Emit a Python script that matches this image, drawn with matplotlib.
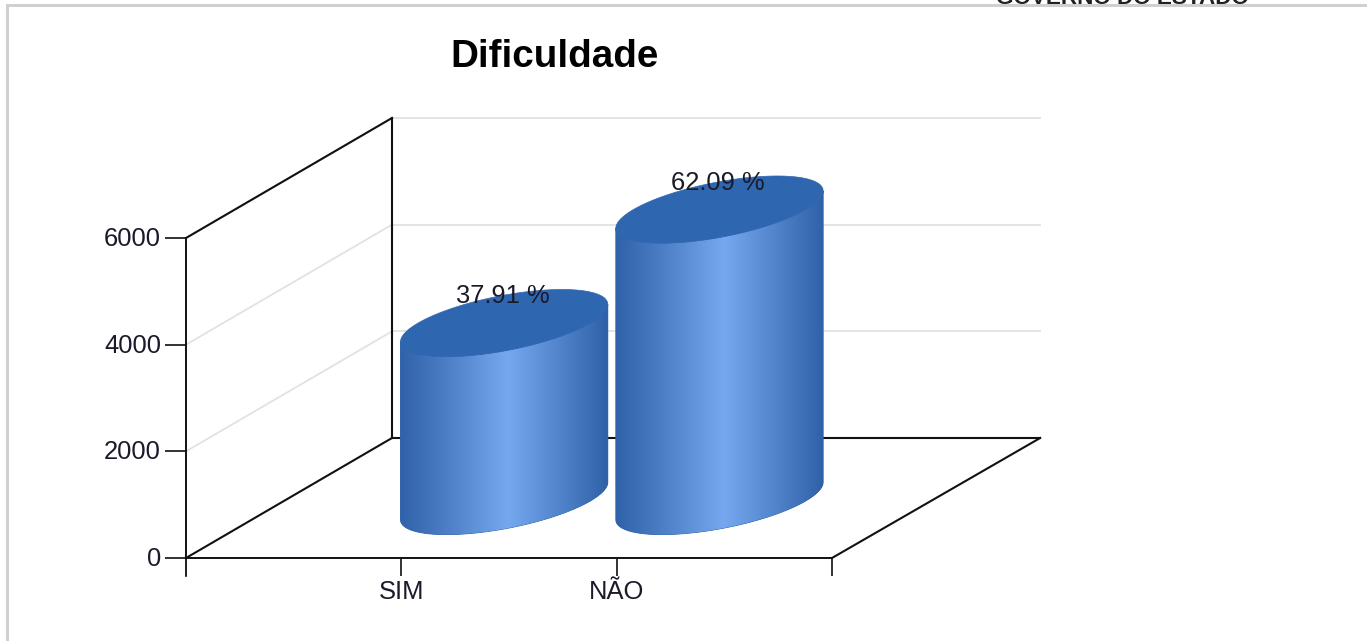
import numpy as np
import matplotlib
matplotlib.use("Agg")
import matplotlib.pyplot as plt
from matplotlib.colors import LinearSegmentedColormap
from matplotlib.patches import Polygon, Rectangle
from matplotlib.transforms import Affine2D

categories = ["SIM", "NÃO"]
values = [3336, 5464]
percent_labels = ["37.91 %", "62.09 %"]
y_ticks = [0, 2000, 4000, 6000]

W, H = 1367, 641
plt.rcParams["font.family"] = ["Liberation Sans", "DejaVu Sans"]

# pixel box of the front plane of the chart
left, right, top, bottom = 186, 832, 238, 558

# depth of the 3d box, in data units (one full depth step)
depth_x = 206 / ((right - left) / 3)
depth_y = 120 * 6000 / (bottom - top)

fig = plt.figure(figsize=(W / 100, H / 100), dpi=100)
ax = fig.add_axes([left / W, 1 - bottom / H, (right - left) / W, (bottom - top) / H])
ax.patch.set_visible(False)

# walls and floor
for v in y_ticks[1:]:
    ax.plot([0, depth_x], [v, v + depth_y], color="#e2e2e2", lw=1.3, clip_on=False, zorder=1)
    ax.plot([depth_x, 3 + depth_x + 0.01], [v + depth_y, v + depth_y], color="#e2e2e2", lw=1.3, clip_on=False, zorder=1)
black = dict(color="#111111", lw=1.5, clip_on=False, zorder=2)
ax.plot([0, depth_x], [6000, 6000 + depth_y], **black)
ax.plot([0, depth_x], [0, depth_y], **black)
ax.plot([depth_x, depth_x], [depth_y, 6000 + depth_y], **black)
ax.plot([depth_x, 3 + depth_x + 0.01], [depth_y, depth_y], **black)
ax.plot([3, 3 + depth_x + 0.01], [0, depth_y], **black)

# cylinders
cyl_a = 0.40
cyl_b = 0.28
cyl_d = 0.475
cyl_off = 0.023
shade = LinearSegmentedColormap.from_list(
    "cyl", [(0, "#2f62a9"), (0.22, "#4b7ec4"), (0.52, "#75a8ee"), (0.78, "#4f82c8"), (1, "#2f61a8")]
)


def ring(k, val, t):
    d = cyl_d + cyl_b * np.sin(t)
    x = k + cyl_off + cyl_a * np.cos(t) + d * depth_x
    y = val + d * depth_y
    return np.column_stack([x, y])


t_side = np.arctan2(cyl_b * depth_x, cyl_a)
half = np.hypot(cyl_a, cyl_b * depth_x)
front = np.linspace(t_side + np.pi, t_side + 2 * np.pi, 80)
whole = np.linspace(0, 2 * np.pi, 160)

for i, val in enumerate(values):
    k = i + 1
    body = np.vstack([ring(k, 0, front), ring(k, val, front[::-1])])
    cx = k + cyl_off + cyl_d * depth_x
    edge = Polygon(body, closed=True, fc="#2f62a9", ec="#2f62a9", lw=0.6, zorder=3, clip_on=False)
    ax.add_patch(edge)
    im = ax.imshow(
        np.linspace(0, 1, 256).reshape(1, -1), cmap=shade, aspect="auto",
        extent=[cx - half, cx + half, 0, 9000], zorder=3.1, interpolation="bilinear",
    )
    inner = Polygon(body, closed=True, transform=ax.transData)
    im.set_clip_path(inner)
    im.set_clip_box(fig.bbox)
    ax.add_patch(Polygon(ring(k, val, whole), closed=True, fc="#2f66b0", ec="#2f66b0", lw=0.5, zorder=4, clip_on=False))
    ax.annotate(
        percent_labels[i], (cx, val + cyl_d * depth_y), xytext=(-1.5, 27 + 0.5 * (1 - i)),
        textcoords="offset pixels", ha="center", va="center", fontsize=18.4,
        color="#1a1a2a", zorder=5, annotation_clip=False,
    )

# axes
ax.set_xlim(0, 3)
ax.set_ylim(0, 6000)
ax.set_xticks([0, 1, 2, 3])
ax.set_xticklabels([""] + categories + [""], fontsize=18.4, color="#1a1a2a")
ax.set_yticks(y_ticks)
ax.set_yticklabels([str(v) for v in y_ticks], fontsize=18.4, color="#1a1a2a")
ax.tick_params(axis="x", length=13, width=1.3, color="#222222", pad=2.5)
ax.tick_params(axis="y", length=15, width=1.3, color="#222222", pad=3)
for lab in ax.get_yticklabels():
    lab.set_verticalalignment("center_baseline")
    lab.set_transform(lab.get_transform() + Affine2D().translate(0, 1.5))
ax.spines["top"].set_visible(False)
ax.spines["right"].set_visible(False)
ax.spines["left"].set_color("#111111")
ax.spines["bottom"].set_color("#111111")
ax.spines["left"].set_linewidth(1.4)
ax.spines["bottom"].set_linewidth(1.4)
# the left tick at the corner runs below the axis
ax.plot([0, 0], [0, -330], color="#222222", lw=1.3, clip_on=False, zorder=2)

fig.text(555 / W, 1 - 57 / H, "Dificuldade", fontsize=27.8, fontweight="bold", ha="center", va="center", color="#000000")

# page around the chart: cut off header text and grey frame
fig.text(1122 / W, 1 - 4 / H, "GOVERNO DO ESTADO", fontsize=16.2, fontweight="bold", ha="center", va="baseline", color="#222222")
fig.add_artist(Rectangle((6 / W, 0), 3 / W, 1 - 4 / H, transform=fig.transFigure, fc="#d0d0d0", ec="none", zorder=10))
fig.add_artist(Rectangle((6 / W, 1 - 7 / H), 1 - 6 / W, 3 / H, transform=fig.transFigure, fc="#d0d0d0", ec="none", zorder=10))

fig.savefig("out.png", dpi=100)
